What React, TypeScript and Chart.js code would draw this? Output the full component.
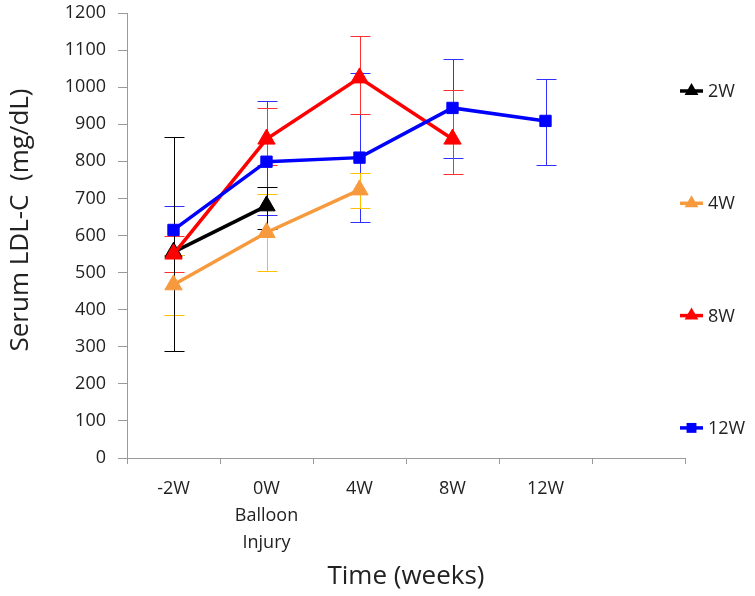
import React, { useEffect, useRef } from 'react';
import { Chart, registerables } from 'chart.js';

Chart.register(...registerables);

// ---- data ----
const categories: (string | string[])[] = ['-2W', ['0W', 'Balloon', 'Injury'], '4W', '8W', '12W', ''];
const seriesNames = ['2W', '4W', '8W', '12W'];

const w2Values = [555, 680];
const w2ErrPlus = [311, 52];
const w2ErrMinus = [266, 63];

const w4Values = [467, 608, 723];
const w4ErrPlus = [81, 105, 46];
const w4ErrMinus = [81, 105, 48];

const w8Values = [550, 860, 1025, 860];
const w8ErrPlus = [49, 83, 113, 132];
const w8ErrMinus = [48, 70, 97, 95];

const w12Values = [615, 799, 810, 944, 909];
const w12ErrPlus = [65, 164, 229, 132, 113];
const w12ErrMinus = [68, 144, 174, 134, 119];

const yMin = 0;
const yMax = 1200;
const yStep = 100;

const xTitle = 'Time (weeks)';
const yTitle = 'Serum LDL-C  (mg/dL)';

// ---- styles ----
const FONT = "'Open Sans', sans-serif";
const TEXT = '#222222';
const AXIS = '#9a9a9a';

const series = [
  { name: seriesNames[0], values: w2Values, plus: w2ErrPlus, minus: w2ErrMinus, color: '#000000', err: '#000000', style: 'triangle', radius: 10, order: 4 },
  { name: seriesNames[1], values: w4Values, plus: w4ErrPlus, minus: w4ErrMinus, color: '#F79A3E', err: '#FFC000', style: 'triangle', radius: 10, order: 3 },
  { name: seriesNames[2], values: w8Values, plus: w8ErrPlus, minus: w8ErrMinus, color: '#FF0000', err: '#FF3030', style: 'triangle', radius: 10, order: 2 },
  { name: seriesNames[3], values: w12Values, plus: w12ErrPlus, minus: w12ErrMinus, color: '#0000FF', err: '#3030FF', style: 'rect', radius: 8, order: 1 },
];

const errorBarPlugin = {
  id: 'errorBars',
  beforeDatasetsDraw(chart: any) {
    const { ctx } = chart;
    const xs = chart.scales.x;
    const ys = chart.scales.y;
    ctx.save();
    ctx.lineWidth = 1;
    [...series].reverse().forEach((s) => {
      ctx.strokeStyle = s.err;
      s.values.forEach((v, i) => {
        const px = Math.round(xs.getPixelForValue(i)) + 0.5;
        const top = Math.round(ys.getPixelForValue(v + s.plus[i])) + 0.5;
        const bot = Math.round(ys.getPixelForValue(v - s.minus[i])) + 0.5;
        ctx.beginPath();
        ctx.moveTo(px, top);
        ctx.lineTo(px, bot);
        ctx.moveTo(px - 10, top);
        ctx.lineTo(px + 10, top);
        ctx.moveTo(px - 10, bot);
        ctx.lineTo(px + 10, bot);
        ctx.stroke();
      });
    });
    ctx.restore();
  },
};

function drawMarker(ctx: CanvasRenderingContext2D, style: string, x: number, y: number, r: number, color: string) {
  ctx.fillStyle = color;
  ctx.beginPath();
  if (style === 'triangle') {
    for (let k = 0; k < 3; k++) {
      const a = (k * 2 * Math.PI) / 3;
      const px = x + Math.sin(a) * r;
      const py = y - Math.cos(a) * r;
      if (k === 0) ctx.moveTo(px, py);
      else ctx.lineTo(px, py);
    }
    ctx.closePath();
  } else {
    const s = r * Math.SQRT1_2;
    ctx.rect(x - s, y - s, 2 * s, 2 * s);
  }
  ctx.fill();
}

const annotationPlugin = {
  id: 'annotations',
  afterDraw(chart: any) {
    const { ctx, chartArea } = chart;
    ctx.save();
    ctx.fillStyle = TEXT;
    ctx.textAlign = 'center';
    ctx.textBaseline = 'middle';
    ctx.font = `26px ${FONT}`;
    ctx.fillText(xTitle, (chartArea.left + chartArea.right) / 2, 577);
    ctx.save();
    ctx.translate(21, 220);
    ctx.rotate(-Math.PI / 2);
    ctx.fillText(yTitle, 0, 0);
    ctx.restore();

    // legend
    const lx = chartArea.right - 5;
    const legendTop = 91;
    const legendGap = 112.3;
    series.forEach((s, i) => {
      const y = legendTop + i * legendGap;
      ctx.strokeStyle = s.color;
      ctx.lineWidth = 3.5;
      ctx.beginPath();
      ctx.moveTo(lx, y);
      ctx.lineTo(lx + 23, y);
      ctx.stroke();
      drawMarker(ctx, s.style, lx + 11.5, y, s.style === 'triangle' ? 8 : 7, s.color);
      ctx.fillStyle = TEXT;
      ctx.textAlign = 'left';
      ctx.font = `18px ${FONT}`;
      ctx.fillText(s.name, lx + 28, y + 1);
    });
    ctx.restore();
  },
};

export default function App() {
  const canvasRef = useRef<HTMLCanvasElement | null>(null);

  useEffect(() => {
    if (!canvasRef.current) return;
    const chart = new Chart(canvasRef.current, {
      type: 'line',
      data: {
        labels: categories as any,
        datasets: series.map((s) => ({
          label: s.name,
          data: s.values,
          borderColor: s.color,
          backgroundColor: s.color,
          borderWidth: 3.5,
          pointStyle: s.style as any,
          pointRadius: s.radius,
          pointBorderWidth: 1,
          pointBorderColor: s.color,
          pointBackgroundColor: s.color,
          tension: 0,
          fill: false,
          order: s.order,
        })),
      },
      options: {
        responsive: false,
        animation: false,
        devicePixelRatio: 1,
        layout: { autoPadding: false, padding: { left: 0, right: 70, top: 13, bottom: 0 } },
        plugins: {
          legend: { display: false },
          tooltip: { enabled: false },
          title: { display: false },
        },
        scales: {
          x: {
            type: 'category',
            offset: true,
            grid: {
              offset: true,
              drawOnChartArea: false,
              drawTicks: true,
              tickLength: 6,
              color: AXIS,
            },
            border: { color: AXIS, width: 1 },
            ticks: {
              color: TEXT,
              font: { family: FONT, size: 18, lineHeight: 1.5 },
              padding: 11,
              maxRotation: 0,
              autoSkip: false,
            },
            afterFit(scale: any) {
              scale.height = 138;
            },
          },
          y: {
            min: yMin,
            max: yMax,
            grid: {
              drawOnChartArea: false,
              drawTicks: true,
              tickLength: 9,
              color: AXIS,
            },
            border: { color: AXIS, width: 1 },
            ticks: {
              stepSize: yStep,
              color: TEXT,
              font: { family: FONT, size: 18 },
              padding: 12,
              callback: (v: any) => String(v),
            },
            afterFit(scale: any) {
              scale.width = 127;
              scale.paddingTop = 11;
              scale.paddingBottom = 11;
            },
          },
        },
      },
      plugins: [errorBarPlugin, annotationPlugin],
    });
    return () => chart.destroy();
  }, []);

  return (
    <div style={{ position: 'absolute', left: 0, top: 0, width: 755, height: 596, background: '#fff' }}>
      <canvas ref={canvasRef} width={755} height={596} style={{ display: 'block' }} />
    </div>
  );
}
